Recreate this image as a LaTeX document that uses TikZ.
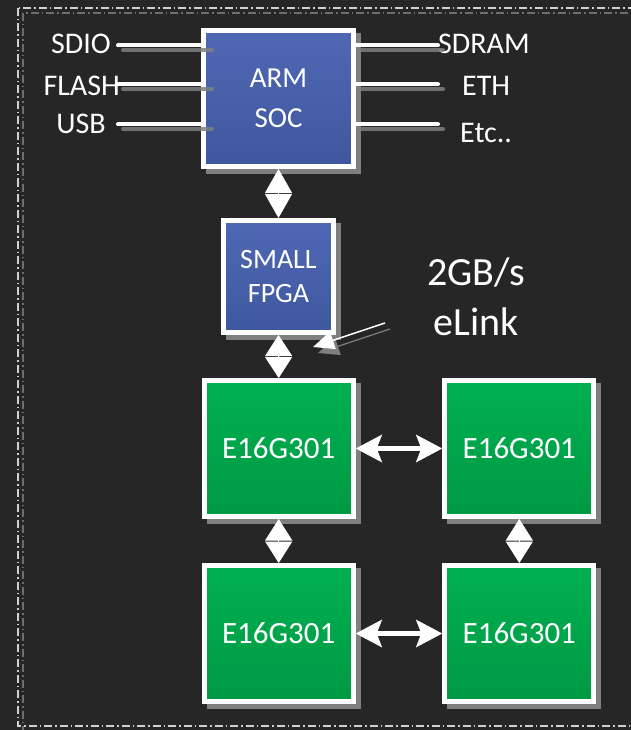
\documentclass[tikz,border=0pt]{standalone}
\usepackage{fontspec}
\setmainfont{Carlito}
\usetikzlibrary{arrows.meta,shadows}
\definecolor{bg}{HTML}{262626}
\definecolor{shgray}{HTML}{7F7F7F}
\definecolor{frameC}{HTML}{D0D0D0}
\definecolor{frameS}{HTML}{6E6E6E}
\definecolor{blueT}{HTML}{5068B4}
\definecolor{blueB}{HTML}{3F579E}
\definecolor{greenT}{HTML}{00B050}
\definecolor{greenB}{HTML}{009944}
\begin{document}
\begin{tikzpicture}[x=1pt,y=-1pt,
  blk/.style={draw=white, line width=5pt, text=white, align=center, inner sep=0pt,
    drop shadow={shadow xshift=5pt, shadow yshift=-5pt, fill=shgray, draw=shgray, line width=5pt, opacity=1}},
  bluebox/.style={blk, top color=blueT, bottom color=blueB},
  chip/.style={blk, top color=greenT, bottom color=greenB, minimum width=149pt, minimum height=136pt,
    font=\fontsize{31}{37}\selectfont},
  lbl/.style={text=white, inner sep=0pt, font=\fontsize{30}{36}\selectfont},
  stub/.style={draw=white, line width=4pt, line cap=round},
  stubsh/.style={draw=shgray, line width=4pt, line cap=round, opacity=0.85},
  harrow/.style={draw=white, line width=5pt,
    {Stealth[length=26pt,width=27pt,inset=5pt]}-{Stealth[length=26pt,width=27pt,inset=5pt]}},
  dia/.style={draw=white, fill=white, line width=1pt,
    {Triangle[length=#1,width=27pt]}-{Triangle[length=#1,width=27pt]}},
  ptr/.style={draw=white, line width=1.5pt, -{Triangle[length=21pt,width=18pt]}},
  ptrsh/.style={draw=shgray, line width=1.2pt, -{Triangle[length=21pt,width=18pt]}},
  frameline/.style={draw=frameC, line width=1.2pt, dash pattern=on 8pt off 3pt on 1.5pt off 3pt},
  frameshadow/.style={draw=frameS, line width=1.2pt, dash pattern=on 8pt off 3pt on 1.5pt off 3pt}
]
\useasboundingbox (0,0) rectangle (631,730);
\fill[bg] (0,0) rectangle (631,730);

% frame
\draw[frameshadow] (23,13) rectangle (660,740);
\draw[frameline] (18,8) rectangle (655,726);

% boxes
\node[bluebox, minimum width=150pt, minimum height=136pt, font=\fontsize{29}{40}\selectfont]
  (arm) at (278.5,98.5) {ARM\\SOC};
\node[bluebox, minimum width=110pt, minimum height=112pt, font=\fontsize{28}{34}\selectfont]
  (fpga) at (278.5,276.5) {SMALL\\FPGA};
\node[chip] (tl) at (278.7,448.5) {E16G301};
\node[chip] (tr) at (519.3,448.5) {E16G301};
\node[chip] (bl) at (278.7,633.5) {E16G301};
\node[chip] (br) at (519.3,633.5) {E16G301};

% labels
\node[lbl, anchor=base east] (sdio) at (111,54) {SDIO};
\node[lbl, anchor=base east] (flash) at (120,95.7) {FLASH};
\node[lbl, anchor=base east] (usb) at (106,134) {USB};
\node[lbl, anchor=base west] (sdram) at (438,54) {SDRAM};
\node[lbl, anchor=base west] (eth) at (462,96) {ETH};
\node[lbl, anchor=base west] (etc) at (460,143) {Etc..};
\node[text=white, inner sep=0pt, align=center, font=\fontsize{40}{50}\selectfont]
  (elink) at (476,297) {2GB/s\\eLink};

% stub lines
\coordinate (l1) at (118,45.5);
\coordinate (l2) at (118,84.5);
\coordinate (l3) at (118,124.5);
\coordinate (r1) at (438,45.5);
\coordinate (r2) at (438,84.5);
\coordinate (r3) at (438,124.5);
\foreach \c in {l1,l2,l3}{
  \draw[stubsh] ([shift={(5,4.5)}]\c) -- ([shift={(11,4.5)}]\c -| arm.west);
  \draw[stub] (\c) -- (\c -| arm.west);
}
\foreach \c in {r1,r2,r3}{
  \draw[stubsh] ([shift={(5,4.5)}]\c -| arm.east) -- ([shift={(5,4.5)}]\c);
  \draw[stub] (\c -| arm.east) -- (\c);
}

% connectors
\draw[dia=24pt] (arm.south) -- (fpga.north);
\draw[dia=21pt] (fpga.south) -- (tl.north);
\draw[dia=21.5pt] (tl.south) -- (bl.north);
\draw[dia=21.5pt] (tr.south) -- (br.north);
\draw[harrow] (tl.east) -- (tr.west);
\draw[harrow] (bl.east) -- (br.west);

% eLink pointer
\coordinate (p1) at (385,323);
\coordinate (p2) at (313,347);
\draw[ptrsh] ([shift={(5,6)}]p1) -- ([shift={(5,6)}]p2);
\draw[ptr] (p1) -- (p2);
\end{tikzpicture}
\end{document}
